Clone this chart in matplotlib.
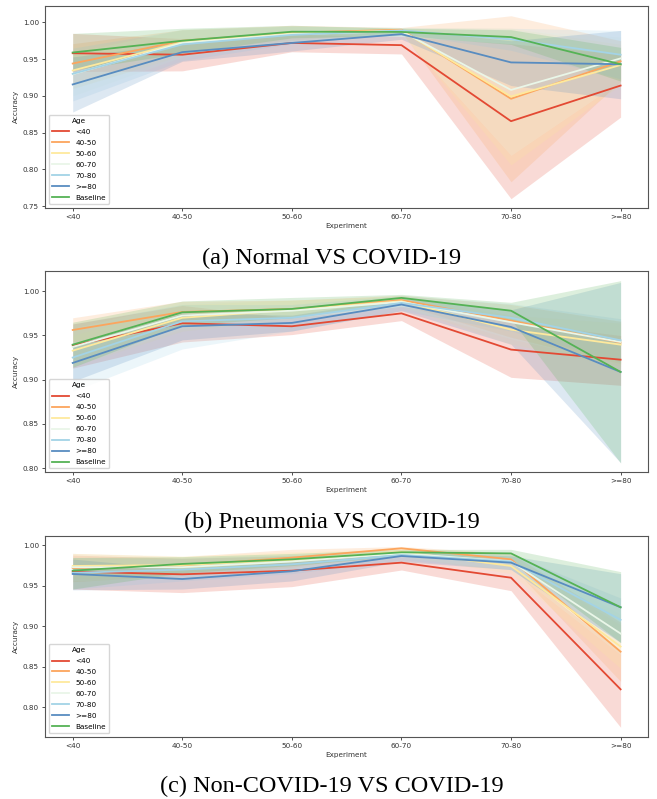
import numpy as np
import matplotlib
matplotlib.use("Agg")
import matplotlib.pyplot as plt

experiments = ["<40", "40-50", "50-60", "60-70", "70-80", ">=80"]
ages = ["<40", "40-50", "50-60", "60-70", "70-80", ">=80", "Baseline"]
captions = ["(a) Normal VS COVID-19", "(b) Pneumonia VS COVID-19",
            "(c) Non-COVID-19 VS COVID-19"]

# (a) Normal VS COVID-19 : mean, lower CI, upper CI per age group
normal_mean = [
    [0.958, 0.956, 0.972, 0.969, 0.8655, 0.914],
    [0.944, 0.975, 0.986, 0.990, 0.896, 0.947],
    [0.9345, 0.973, 0.985, 0.989, 0.899, 0.942],
    [0.9295, 0.972, 0.984, 0.988, 0.908, 0.951],
    [0.930, 0.970, 0.983, 0.989, 0.977, 0.956],
    [0.9155, 0.9595, 0.972, 0.984, 0.9455, 0.943],
    [0.959, 0.975, 0.9873, 0.987, 0.980, 0.943],
]
normal_lo = [
    [0.933, 0.934, 0.960, 0.957, 0.760, 0.871],
    [0.917, 0.960, 0.976, 0.987, 0.783, 0.920],
    [0.910, 0.955, 0.975, 0.985, 0.806, 0.915],
    [0.900, 0.953, 0.973, 0.983, 0.819, 0.920],
    [0.893, 0.948, 0.971, 0.985, 0.962, 0.923],
    [0.878, 0.947, 0.961, 0.977, 0.914, 0.896],
    [0.935, 0.958, 0.979, 0.982, 0.970, 0.920],
]
normal_hi = [
    [0.985, 0.978, 0.984, 0.981, 0.971, 0.957],
    [0.971, 0.990, 0.996, 0.993, 1.009, 0.975],
    [0.960, 0.990, 0.995, 0.993, 0.992, 0.970],
    [0.958, 0.991, 0.995, 0.993, 0.990, 0.980],
    [0.965, 0.990, 0.995, 0.993, 0.992, 0.989],
    [0.953, 0.972, 0.983, 0.991, 0.975, 0.989],
    [0.985, 0.992, 0.996, 0.992, 0.990, 0.966],
]

# (b) Pneumonia VS COVID-19
pneu_mean = [
    [0.9389, 0.9638, 0.9604, 0.975, 0.934, 0.9226],
    [0.9562, 0.9766, 0.980, 0.990, 0.9668, 0.942],
    [0.9328, 0.970, 0.979, 0.9887, 0.9566, 0.9396],
    [0.937, 0.9725, 0.978, 0.988, 0.965, 0.9426],
    [0.925, 0.966, 0.970, 0.9868, 0.970, 0.9445],
    [0.9189, 0.9604, 0.9642, 0.985, 0.9596, 0.9087],
    [0.9396, 0.9762, 0.980, 0.9925, 0.978, 0.9087],
]
pneu_lo = [
    [0.913, 0.9426, 0.951, 0.9668, 0.9026, 0.8936],
    [0.943, 0.965, 0.970, 0.985, 0.948, 0.918],
    [0.915, 0.955, 0.968, 0.983, 0.940, 0.915],
    [0.915, 0.958, 0.967, 0.982, 0.946, 0.918],
    [0.887, 0.9347, 0.955, 0.978, 0.955, 0.920],
    [0.898, 0.945, 0.955, 0.978, 0.940, 0.806],
    [0.914, 0.962, 0.970, 0.988, 0.968, 0.8057],
]
pneu_hi = [
    [0.963, 0.984, 0.970, 0.983, 0.9654, 0.950],
    [0.970, 0.9887, 0.990, 0.9955, 0.985, 0.966],
    [0.950, 0.985, 0.990, 0.994, 0.973, 0.964],
    [0.958, 0.987, 0.989, 0.994, 0.984, 0.966],
    [0.963, 0.985, 0.985, 0.995, 0.986, 0.969],
    [0.940, 0.975, 0.973, 0.992, 0.979, 1.010],
    [0.965, 0.989, 0.993, 0.9965, 0.9875, 1.012],
]

# (c) Non-COVID-19 VS COVID-19
noncov_mean = [
    [0.9675, 0.9642, 0.9687, 0.9786, 0.960, 0.8222],
    [0.972, 0.975, 0.9848, 0.9963, 0.9827, 0.8687],
    [0.9745, 0.9757, 0.982, 0.992, 0.9745, 0.875],
    [0.973, 0.973, 0.980, 0.990, 0.980, 0.891],
    [0.966, 0.970, 0.9765, 0.988, 0.980, 0.908],
    [0.9646, 0.9584, 0.968, 0.9868, 0.9786, 0.9235],
    [0.9687, 0.977, 0.9827, 0.9914, 0.990, 0.9235],
]
noncov_lo = [
    [0.946, 0.9416, 0.949, 0.9695, 0.944, 0.7753],
    [0.955, 0.963, 0.973, 0.992, 0.975, 0.832],
    [0.958, 0.963, 0.972, 0.987, 0.965, 0.848],
    [0.956, 0.960, 0.970, 0.985, 0.970, 0.865],
    [0.946, 0.956, 0.965, 0.982, 0.970, 0.880],
    [0.945, 0.946, 0.956, 0.980, 0.970, 0.880],
    [0.946, 0.966, 0.975, 0.987, 0.984, 0.880],
]
noncov_hi = [
    [0.988, 0.984, 0.987, 0.988, 0.976, 0.869],
    [0.990, 0.986, 0.995, 0.9985, 0.990, 0.905],
    [0.990, 0.987, 0.992, 0.996, 0.984, 0.902],
    [0.990, 0.986, 0.990, 0.994, 0.988, 0.915],
    [0.985, 0.984, 0.988, 0.993, 0.989, 0.935],
    [0.983, 0.971, 0.980, 0.992, 0.987, 0.965],
    [0.985, 0.986, 0.990, 0.995, 0.995, 0.9675],
]

panels = [(normal_mean, normal_lo, normal_hi, (0.748, 1.0223), [0.75, 0.80, 0.85, 0.90, 0.95, 1.00]),
          (pneu_mean, pneu_lo, pneu_hi, (0.7955, 1.0226), [0.80, 0.85, 0.90, 0.95, 1.00]),
          (noncov_mean, noncov_lo, noncov_hi, (0.7637, 1.0115), [0.80, 0.85, 0.90, 0.95, 1.00])]

cmap = plt.get_cmap("RdYlBu")
colors = [cmap(v) for v in np.linspace(0, 1, 8)[1:-1]] + ["#55b255"]

W, H = 657, 799
fig = plt.figure(figsize=(W / 100, H / 100), dpi=100)

ax_boxes = [(6, 207.5), (271.3, 472), (536, 736.7)]
cap_y = [258, 522.5, 786]
left_px, right_px = 45.3, 648

fs = 5.2
x = np.arange(len(experiments))
for i, (mean, lo, hi, ylim, yt) in enumerate(panels):
    top, bot = ax_boxes[i]
    ax = fig.add_axes([left_px / W, 1 - bot / H, (right_px - left_px) / W, (bot - top) / H])
    for k, name in enumerate(ages):
        c = colors[k]
        ax.fill_between(x, lo[k], hi[k], color=c, alpha=0.2, linewidth=0)
        ax.plot(x, mean[k], color=c, lw=1.3, label=name)
    ax.set_xlim(-0.25, 5.25)
    ax.set_ylim(*ylim)
    ax.set_yticks(yt)
    ax.set_yticklabels([f"{v:.2f}" for v in yt])
    ax.set_xticks(x)
    ax.set_xticklabels(experiments)
    ax.tick_params(labelsize=fs, length=2.5, width=0.6, pad=2, colors="#333333")
    for s in ax.spines.values():
        s.set_color("#555555")
        s.set_linewidth(0.8)
    ax.set_xlabel("Experiment", fontsize=fs, labelpad=2, color="#333333")
    ax.set_ylabel("Accuracy", fontsize=fs, labelpad=3, color="#333333")
    leg = ax.legend(title="Age", loc="lower left", fontsize=fs, title_fontsize=fs,
                    handlelength=2.4, labelspacing=0.68, borderpad=0.45,
                    framealpha=0.8, edgecolor="#cccccc")
    fig.text(0.505, 1 - cap_y[i] / H, captions[i], ha="center", va="center",
             fontsize=17.5, family="Liberation Serif")

fig.savefig("out.png", dpi=100)
